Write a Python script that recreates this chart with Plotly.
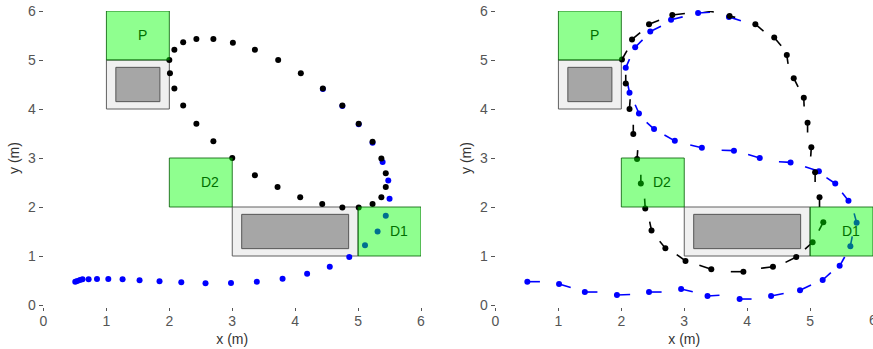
import plotly.graph_objects as go

# left panel: measured positions
left_blue_x = [0.505, 0.537, 0.58, 0.62, 0.717, 0.85, 1.03, 1.257, 1.527, 1.844, 2.19, 2.575, 2.98,
               3.39, 3.80, 4.19, 4.55, 4.86, 5.11, 5.31, 5.44, 5.50, 5.48, 5.39, 5.23, 5.01, 4.75, 4.44]
left_blue_y = [0.476, 0.49, 0.51, 0.524, 0.524, 0.53, 0.53, 0.524, 0.504, 0.483, 0.463, 0.443, 0.449,
               0.476, 0.537, 0.639, 0.782, 0.98, 1.22, 1.50, 1.82, 2.17, 2.54, 2.92, 3.31, 3.69, 4.06, 4.41]
left_black_x = [3.0, 2.70, 2.43, 2.22, 2.08, 2.01, 2.0, 2.08, 2.22, 2.43, 2.70, 3.01, 3.36, 3.73, 4.09, 4.44,
                4.75, 5.01, 5.23, 5.37, 5.44, 5.44, 5.37, 5.23, 5.01, 4.75, 4.43, 4.08, 3.72, 3.36]
left_black_y = [3.0, 3.34, 3.70, 4.07, 4.42, 4.73, 5.0, 5.21, 5.36, 5.43, 5.43, 5.35, 5.21, 5.0, 4.73, 4.42,
                4.07, 3.70, 3.33, 2.99, 2.69, 2.41, 2.20, 2.06, 1.99, 1.99, 2.06, 2.20, 2.41, 2.65]

# right panel: positions and the short direction vectors
right_blue_x = [0.506, 1.01, 1.42, 1.93, 2.44, 2.95, 3.37, 3.88, 4.38, 4.84, 5.20, 5.47, 5.64, 5.74, 5.61, 5.40,
                5.14, 4.69, 4.20, 3.79, 3.28, 2.85, 2.52, 2.28, 2.13, 2.07, 2.22, 2.46, 2.79, 3.22, 3.71]
right_blue_y = [0.476, 0.43, 0.265, 0.204, 0.265, 0.327, 0.184, 0.122, 0.184, 0.30, 0.51, 0.80, 1.20, 1.68, 2.13, 2.48,
                2.73, 2.91, 3.0, 3.15, 3.21, 3.35, 3.59, 3.91, 4.33, 4.84, 5.26, 5.58, 5.82, 5.96, 5.88]
right_blue_u = [0.20, 0.185, 0.20, 0.21, 0.20, 0.185, 0.19, 0.19, 0.20, 0.175, 0.13, 0.08, 0.03, -0.04, -0.10, -0.14,
                -0.22, -0.185, -0.185, -0.196, -0.185, -0.165, -0.117, -0.06, -0.03, 0.06, 0.117, 0.17, 0.185, 0.19, 0.19]
right_blue_v = [0, -0.075, 0, 0.01, 0, -0.055, 0.015, 0, 0.05, 0.11, 0.15, 0.18, 0.20, 0.19, 0.16, 0.12,
                0.09, 0.014, 0.07, 0.007, 0.054, 0.12, 0.136, 0.177, 0.19, 0.177, 0.15, 0.11, 0.06, 0.014, -0.08]

right_black_x = [2.25, 2.19, 2.13, 2.07, 2.01, 2.17, 2.44, 2.81, 3.28, 3.72, 4.13, 4.43, 4.63, 4.74, 4.90, 4.96,
                 5.02, 5.08, 5.15, 5.21, 5.04, 4.78, 4.41, 3.94, 3.43, 3.02, 2.70, 2.48, 2.38, 2.31]
right_black_y = [2.98, 3.49, 4.0, 4.52, 5.01, 5.42, 5.73, 5.92, 6.02, 5.90, 5.73, 5.46, 5.10, 4.63, 4.23, 3.72,
                 3.22, 2.71, 2.20, 1.69, 1.28, 0.98, 0.78, 0.68, 0.73, 0.90, 1.16, 1.52, 1.97, 2.48]
right_black_u = [0.01, 0, 0.01, 0, 0.08, 0.13, 0.16, 0.20, 0.19, 0.09, 0.13, 0.11, 0.02, 0.07, 0.005, 0,
                 -0.01, 0, 0, -0.07, -0.12, -0.17, -0.19, -0.20, -0.19, -0.14, -0.09, -0.03, -0.01, 0]
right_black_v = [0.18, 0.19, 0.20, 0.18, 0.18, 0.14, 0.08, 0.03, -0.04, -0.03, -0.14, -0.17, -0.18, -0.18, -0.18, -0.20,
                 -0.19, -0.20, -0.20, -0.17, -0.14, -0.11, -0.03, 0, 0.08, 0.13, 0.14, 0.18, 0.20, 0.18]

tick_vals = [0, 1, 2, 3, 4, 5, 6]
zone_names = ['P', 'D2', 'D1']

BLUE = '#0000ff'
BLACK = '#000000'
GREEN_TEXT = '#007000'
TICK_GREY = '#555555'

# pixel layout of the 873x349 page
W, H = 873.0, 349.0


def tails(xs, ys, us, vs):
    # one short segment per point, broken up with None
    tx, ty = [], []
    for x, y, u, v in zip(xs, ys, us, vs):
        tx += [x, x + u, None]
        ty += [y, y + v, None]
    return tx, ty


def dots(xs, ys, color, xaxis, size=6):
    return go.Scatter(x=xs, y=ys, mode='markers', xaxis=xaxis, yaxis=xaxis.replace('x', 'y'),
                      marker=dict(color=color, size=size, line=dict(width=0)),
                      cliponaxis=False, hoverinfo='skip', showlegend=False)


def segs(xs, ys, us, vs, color, xaxis):
    tx, ty = tails(xs, ys, us, vs)
    return go.Scatter(x=tx, y=ty, mode='lines', xaxis=xaxis, yaxis=xaxis.replace('x', 'y'),
                      line=dict(color=color, width=1.6),
                      cliponaxis=False, hoverinfo='skip', showlegend=False)


fig = go.Figure()
fig.add_trace(dots(left_blue_x, left_blue_y, BLUE, 'x'))
fig.add_trace(dots(left_black_x, left_black_y, BLACK, 'x'))
fig.add_trace(segs(right_blue_x, right_blue_y, right_blue_u, right_blue_v, BLUE, 'x2'))
fig.add_trace(dots(right_blue_x, right_blue_y, BLUE, 'x2'))
fig.add_trace(segs(right_black_x, right_black_y, right_black_u, right_black_v, BLACK, 'x2'))
fig.add_trace(dots(right_black_x, right_black_y, BLACK, 'x2'))

shapes = []
annotations = []
for xr, yr in [('x', 'y'), ('x2', 'y2')]:
    # obstacles sit under the points
    for x0, x1, y0, y1 in [(1, 2, 4, 5), (3, 5, 1, 2)]:
        shapes.append(dict(type='rect', xref=xr, yref=yr, x0=x0, x1=x1, y0=y0, y1=y1, layer='below',
                           fillcolor='#f0f0f0', line=dict(color='#606060', width=1)))
        shapes.append(dict(type='rect', xref=xr, yref=yr, x0=x0 + 0.15, x1=x1 - 0.15, y0=y0 + 0.15, y1=y1 - 0.15,
                           layer='below', fillcolor='#a6a6a6', line=dict(color='#555555', width=1)))
    # goal zones are see-through and tint whatever is under them
    for x0, y0, lx, name in zip([1, 2, 5], [5, 2, 1], [1.57, 2.65, 5.65], zone_names):
        shapes.append(dict(type='rect', xref=xr, yref=yr, x0=x0, x1=x0 + 1, y0=y0, y1=y0 + 1, layer='above',
                           fillcolor='rgba(0,255,0,0.44)', line=dict(color='rgba(0,90,0,0.8)', width=1)))
        annotations.append(dict(x=lx, y=y0 + 0.52, xref=xr, yref=yr, text=name, showarrow=False,
                                font=dict(color=GREEN_TEXT, size=14)))

axis_font = dict(family='Liberation Sans', size=14, color=TICK_GREY)
title_font = dict(family='Liberation Sans', size=14, color='#333333')

# plotly drops the last tick label since it hangs off the page, the reference has it cut at the edge
annotations.append(dict(x=6, y=(H - 320) / H, xref='x2', yref='paper', text=str(tick_vals[-1]), showarrow=False,
                        xanchor='center', yanchor='middle', font=axis_font))


def x_axis(px0, px1):
    return dict(domain=[px0 / W, px1 / W], range=[0, 6], tickvals=tick_vals, ticks='outside', ticklen=3,
                tickwidth=1, tickcolor=TICK_GREY, tickfont=axis_font, showgrid=False, zeroline=False,
                showline=False, anchor='free', position=(H - 307) / H, automargin=False, ticklabelstandoff=-2,
                title=dict(text='x (m)', font=title_font, standoff=6))


def y_axis(anchor_x):
    return dict(domain=[(H - 305) / H, (H - 11) / H], range=[0, 6], tickvals=tick_vals, ticks='outside', ticklen=4,
                tickwidth=1, tickcolor=TICK_GREY, tickfont=axis_font, showgrid=False, zeroline=False,
                showline=False, anchor=anchor_x, automargin=False,
                title=dict(text='y (m)', font=title_font, standoff=5))


fig.update_layout(
    width=873, height=349,
    margin=dict(l=0, r=0, t=0, b=0),
    paper_bgcolor='white', plot_bgcolor='white',
    font=dict(family='Liberation Sans'),
    showlegend=False,
    shapes=shapes,
    annotations=annotations,
    xaxis=x_axis(43.5, 421),
    yaxis=y_axis('x'),
    xaxis2=x_axis(495.5, 873),
    yaxis2=y_axis('x2'),
)

fig.write_html("out.html", config=dict(displayModeBar=False), post_script="document.body.style.margin='0';")
